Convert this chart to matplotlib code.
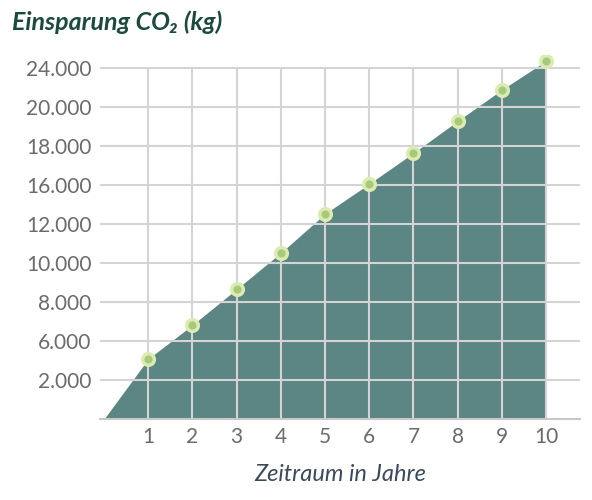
import matplotlib.pyplot as plt

plt.rcParams['font.family'] = ['Lato', 'DejaVu Sans']

# years and savings (in grid units, the axis labels are categorical as in the original)
years = [0, 1, 2, 3, 4, 5, 6, 7, 8, 9, 10]
values = [0, 1.54, 2.41, 3.33, 4.26, 5.26, 6.03, 6.82, 7.64, 8.44, 9.18]
ytick_labels = ['2.000', '6.000', '8.000', '10.000', '12.000',
                '16.000', '18.000', '20.000', '24.000']

fig = plt.figure(figsize=(5.92, 5.0), dpi=100)
ax = fig.add_axes([0.169, 0.162, 0.811, 0.728])

ax.fill_between(years, values, 0, color='#5b8683', zorder=1, lw=0)
for y in range(1, 10):
    ax.axhline(y, color='#d4d4d4', lw=1.5, zorder=2)
ax.vlines(years[1:], 0, 9, color='#d4d4d4', lw=1.5, zorder=2)
ax.scatter(years[1:], values[1:], s=70, color='#a6c97d', edgecolor='#dcebb0',
           linewidth=2.5, zorder=3)

ax.set_xlim(-0.09, 10.77)
ax.set_ylim(0, 9.33)
ax.set_xticks(years[1:])
ax.set_yticks(range(1, 10))
ax.set_yticklabels(ytick_labels)
ax.tick_params(length=0, labelsize=15, colors='#6b6b6b', pad=6)
for s in ['top', 'right', 'left']:
    ax.spines[s].set_visible(False)
ax.spines['bottom'].set_color('#c8c8c8')
ax.spines['bottom'].set_linewidth(1.5)
ax.set_xlabel('Zeitraum in Jahre', fontsize=17, style='italic', color='#3a4a5a',
              labelpad=12)
fig.text(0.02, 0.94, 'Einsparung CO₂ (kg)', fontsize=18, fontweight='bold',
         style='italic', color='#1b4a3e')

fig.savefig('out.png')
